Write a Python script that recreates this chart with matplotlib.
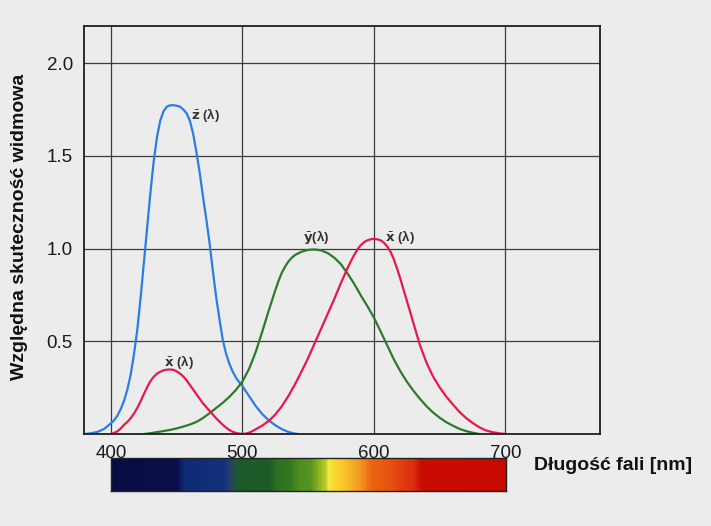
import numpy as np
import matplotlib
matplotlib.use("Agg")
import matplotlib.pyplot as plt
from matplotlib.colors import LinearSegmentedColormap

# ---- data ----
wl_z = [380, 385, 390, 395, 400, 402.5, 405, 407.5, 410, 412.5, 415, 417.5, 420,
        422.5, 425, 427.5, 430, 432.5, 435, 437.5, 440, 442.5, 445, 447.5, 450,
        452.5, 455, 457.5, 460, 462.5, 465, 467.5, 470, 472.5, 475, 477.5, 480,
        482.5, 485, 487.5, 490, 492.5, 495, 497.5, 500, 505, 510, 515, 520, 525,
        530, 535, 540, 542]
z_bar = [0.0, 0.004, 0.012, 0.028, 0.058, 0.075, 0.10, 0.135, 0.18, 0.24, 0.32,
         0.43, 0.56, 0.73, 0.92, 1.11, 1.30, 1.47, 1.60, 1.69, 1.74, 1.765, 1.772,
         1.773, 1.77, 1.765, 1.75, 1.73, 1.69, 1.62, 1.52, 1.41, 1.28, 1.16, 1.03,
         0.88, 0.74, 0.62, 0.51, 0.435, 0.38, 0.338, 0.305, 0.28, 0.258, 0.205,
         0.152, 0.108, 0.074, 0.047, 0.026, 0.011, 0.002, 0.0]

wl_x = [400, 402.5, 405, 407.5, 410, 412.5, 415, 417.5, 420, 422.5, 425, 427.5,
        430, 432.5, 435, 437.5, 440, 442.5, 445, 447.5, 450, 452.5, 455, 457.5,
        460, 465, 470, 475, 480, 485, 487.5, 490, 492.5, 495, 497.5, 500, 502.5,
        505, 507.5, 510, 515, 520, 525, 530, 535, 540, 545, 550, 555, 560, 565,
        570, 575, 580, 582.5, 585, 587.5, 590, 592.5, 595, 597.5, 600, 602.5, 605,
        607.5, 610, 612.5, 615, 617.5, 620, 622.5, 625, 627.5, 630, 632.5, 635,
        640, 645, 650, 655, 660, 665, 670, 675, 680, 685, 690, 695, 700]
x_bar = [0.0, 0.006, 0.015, 0.03, 0.05, 0.065, 0.085, 0.11, 0.14, 0.175, 0.215,
         0.252, 0.285, 0.308, 0.325, 0.336, 0.343, 0.347, 0.348, 0.346, 0.338,
         0.326, 0.31, 0.29, 0.265, 0.215, 0.165, 0.125, 0.085, 0.05, 0.035, 0.022,
         0.012, 0.006, 0.002, 0.0, 0.002, 0.007, 0.015, 0.025, 0.045, 0.07, 0.105,
         0.15, 0.205, 0.268, 0.337, 0.41, 0.49, 0.57, 0.65, 0.73, 0.815, 0.895,
         0.932, 0.965, 0.995, 1.018, 1.034, 1.044, 1.05, 1.052, 1.05, 1.045,
         1.033, 1.012, 0.985, 0.945, 0.895, 0.84, 0.78, 0.72, 0.66, 0.60, 0.54,
         0.48, 0.385, 0.31, 0.252, 0.202, 0.16, 0.12, 0.087, 0.06, 0.037, 0.02,
         0.01, 0.004, 0.0]

wl_y = [425, 430, 435, 440, 445, 450, 455, 460, 465, 470, 475, 480, 485, 490, 495,
        500, 505, 510, 515, 520, 525, 527.5, 530, 532.5, 535, 537.5, 540, 545, 550,
        555, 560, 565, 570, 575, 580, 585, 590, 595, 600, 605, 610, 615, 620, 625,
        630, 635, 640, 645, 650, 655, 660, 665, 670, 675, 680]
y_bar = [0.0, 0.004, 0.01, 0.016, 0.022, 0.03, 0.04, 0.051, 0.065, 0.086, 0.112,
         0.14, 0.168, 0.2, 0.237, 0.283, 0.35, 0.44, 0.55, 0.665, 0.775, 0.826,
         0.87, 0.903, 0.93, 0.95, 0.965, 0.983, 0.993, 0.995, 0.99, 0.975, 0.95,
         0.915, 0.865, 0.81, 0.748, 0.69, 0.628, 0.555, 0.48, 0.405, 0.34, 0.283,
         0.234, 0.19, 0.15, 0.116, 0.088, 0.064, 0.045, 0.028, 0.016, 0.007, 0.0]

x_ticks = [400, 500, 600, 700]
y_ticks = [0.5, 1.0, 1.5, 2.0]

spectrum_nm = [400, 450, 455, 486, 491, 496, 520, 526, 536, 542, 552, 558, 563,
               566, 569, 578, 586, 592, 598, 612, 620, 630, 636, 700]
spectrum_colors = ['#0a0c44', '#0b0e48', '#112a74', '#13327c', '#2a4262', '#1d5a2c',
                   '#1e5c26', '#2c7222', '#33781f', '#4c8c20', '#5a9420', '#8eb422',
                   '#b8cc22', '#f2ee44', '#f8d830', '#f8c428', '#f4a424', '#f08a1c',
                   '#ec6410', '#e85410', '#e24012', '#dc3010', '#ca0c02', '#c80a00']

labels = ['Względna skuteczność widmowa', 'Długość fali [nm]']

# ---- drawing ----
bg = '#ececec'
plt.rcParams['font.family'] = ['Liberation Sans', 'DejaVu Sans']
plt.rcParams['mathtext.fontset'] = 'dejavusans'

fig = plt.figure(figsize=(7.11, 5.26), dpi=100, facecolor=bg)
ax = fig.add_axes([84 / 711, 1 - 434 / 526, 516 / 711, 408 / 526])
ax.set_facecolor(bg)

ax.plot(wl_z, z_bar, color='#2b7de6', lw=1.6, solid_capstyle='round')
ax.plot(wl_y, y_bar, color='#2d7a2c', lw=1.6, solid_capstyle='round')
ax.plot(wl_x, x_bar, color='#e8174c', lw=1.6, solid_capstyle='round')

ax.set_xlim(379.5, 772)
ax.set_ylim(0, 2.2)
ax.set_xticks(x_ticks)
ax.set_yticks(y_ticks)
ax.yaxis.set_major_formatter(matplotlib.ticker.FormatStrFormatter('%.1f'))
ax.grid(True, color='#3c3c3c', lw=0.9)
ax.set_axisbelow(True)
ax.tick_params(length=0, labelsize=13.5, pad=8, colors='#1a1a1a')
for s in ax.spines.values():
    s.set_color('#1e1e1e')
    s.set_linewidth(1.3)

lab_kw = dict(fontsize=9.5, color='#333333', ha='center', va='center',
              fontweight='bold')
ax.text(472, 1.72, r'$\bar{\mathbf{z}}$' + ' (λ)', **lab_kw)
ax.text(556, 1.06, r'$\bar{\mathbf{y}}$' + '(λ)', **lab_kw)
ax.text(620, 1.06, r'$\bar{\mathbf{x}}$' + ' (λ)', **lab_kw)
ax.text(452, 0.39, r'$\bar{\mathbf{x}}$' + ' (λ)', **lab_kw)

fig.text(20 / 711, 1 - 227 / 526, labels[0], rotation=90, fontsize=14,
         fontweight='bold', ha='center', va='center', color='#111111')
fig.text(534 / 711, 1 - 466 / 526, labels[1], fontsize=14, fontweight='bold',
         ha='left', va='center', color='#111111')

# spectrum bar
cax = fig.add_axes([111 / 711, 1 - 491 / 526, 395 / 711, 33 / 526])
lo, hi = spectrum_nm[0], spectrum_nm[-1]
pos = [(v - lo) / (hi - lo) for v in spectrum_nm]
cmap = LinearSegmentedColormap.from_list('spec', list(zip(pos, spectrum_colors)))
grad = np.linspace(lo, hi, 600)[None, :]
cax.imshow(grad, aspect='auto', cmap=cmap, extent=[lo, hi, 0, 1])
cax.set_xticks([])
cax.set_yticks([])
for s in cax.spines.values():
    s.set_color('#222222')
    s.set_linewidth(1.0)

fig.savefig('out.png', dpi=100, facecolor=bg)
